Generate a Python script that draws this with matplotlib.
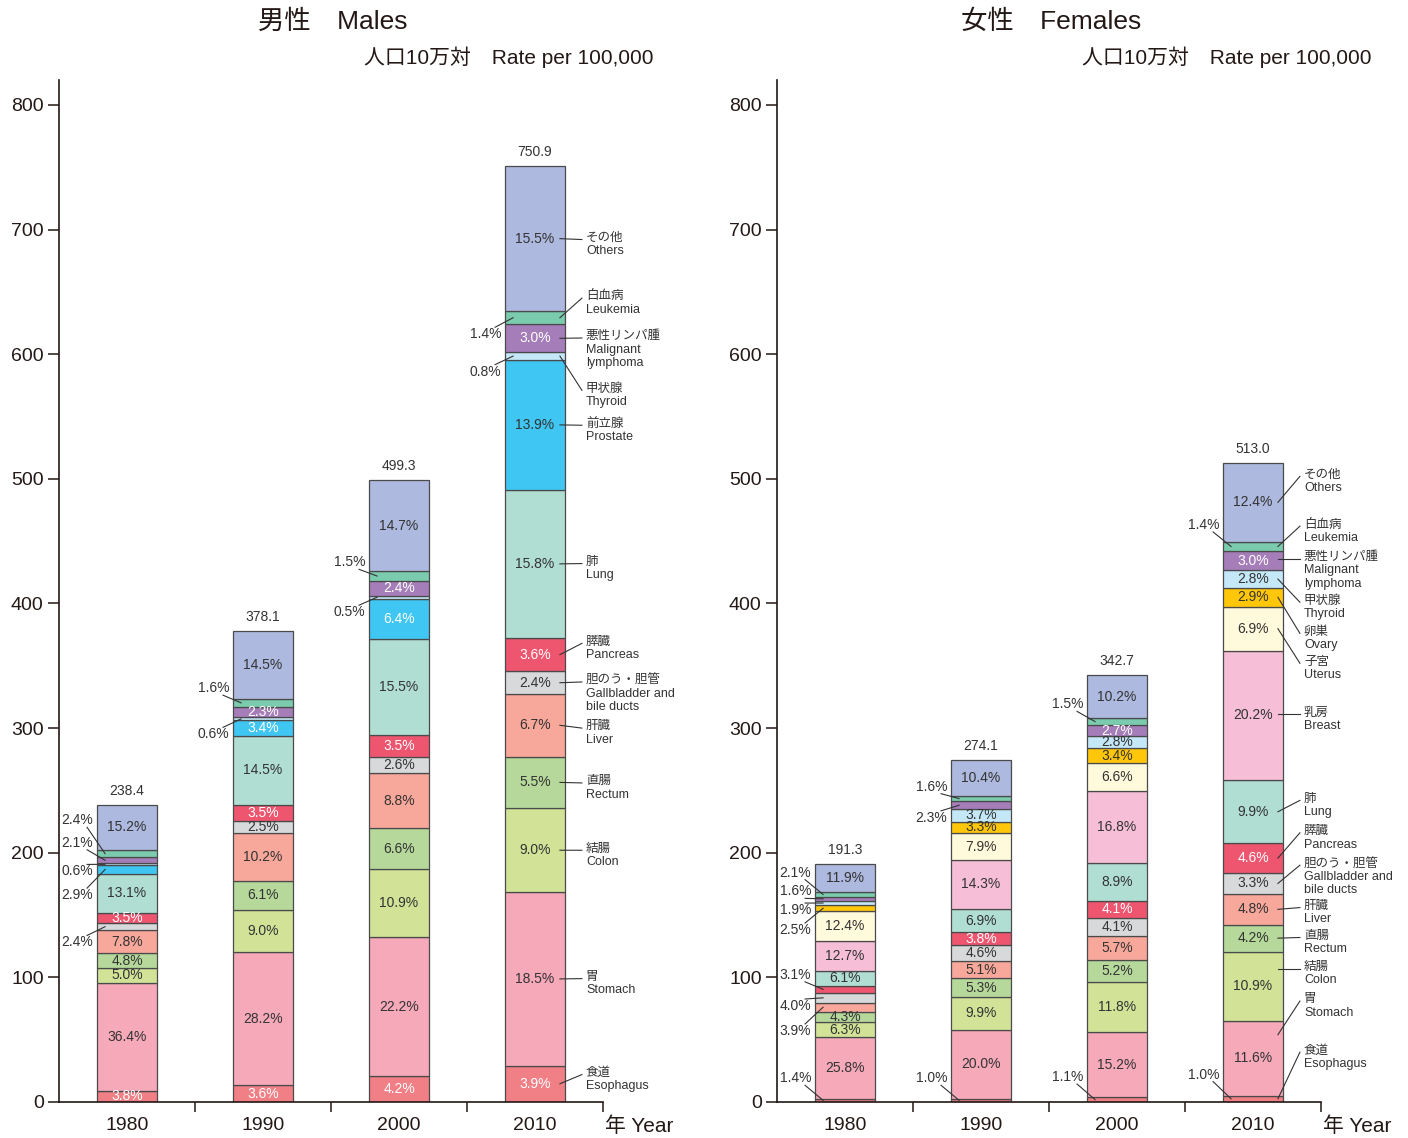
import matplotlib

matplotlib.use("Agg")
import matplotlib.pyplot as plt
import matplotlib.transforms as mtransforms
import numpy as np

plt.rcParams["font.family"] = ["Liberation Sans", "Noto Sans CJK JP", "DejaVu Sans"]

YEARS = ["1980", "1990", "2000", "2010"]

# --- male data (percent of total, bottom -> top) ---
MALE_SITES = ["Esophagus", "Stomach", "Colon", "Rectum", "Liver", "Gallbladder",
              "Pancreas", "Lung", "Prostate", "Thyroid", "Lymphoma", "Leukemia", "Others"]
MALE_TOTAL = [238.4, 378.1, 499.3, 750.9]
MALE_PCT_1980 = [3.8, 36.4, 5.0, 4.8, 7.8, 2.4, 3.5, 13.1, 2.9, 0.6, 2.1, 2.4, 15.2]
MALE_PCT_1990 = [3.6, 28.2, 9.0, 6.1, 10.2, 2.5, 3.5, 14.5, 3.4, 0.6, 2.3, 1.6, 14.5]
MALE_PCT_2000 = [4.2, 22.2, 10.9, 6.6, 8.8, 2.6, 3.5, 15.5, 6.4, 0.5, 2.4, 1.5, 14.7]
MALE_PCT_2010 = [3.9, 18.5, 9.0, 5.5, 6.7, 2.4, 3.6, 15.8, 13.9, 0.8, 3.0, 1.4, 15.5]

# --- female data ---
FEMALE_SITES = ["Esophagus", "Stomach", "Colon", "Rectum", "Liver", "Gallbladder",
                "Pancreas", "Lung", "Breast", "Uterus", "Ovary", "Thyroid",
                "Lymphoma", "Leukemia", "Others"]
FEMALE_TOTAL = [191.3, 274.1, 342.7, 513.0]
FEMALE_PCT_1980 = [1.4, 25.8, 6.3, 4.3, 3.9, 4.0, 3.1, 6.1, 12.7, 12.4, 2.5, 1.9, 1.6, 2.1, 11.9]
FEMALE_PCT_1990 = [1.0, 20.0, 9.9, 5.3, 5.1, 4.6, 3.8, 6.9, 14.3, 7.9, 3.3, 3.7, 2.3, 1.6, 10.4]
FEMALE_PCT_2000 = [1.1, 15.2, 11.8, 5.2, 5.7, 4.1, 4.1, 8.9, 16.8, 6.6, 3.4, 2.8, 2.7, 1.5, 10.2]
FEMALE_PCT_2010 = [1.0, 11.6, 10.9, 4.2, 4.8, 3.3, 4.6, 9.9, 20.2, 6.9, 2.9, 2.8, 3.0, 1.4, 12.4]

SITE_NAMES = {
    "Esophagus": "食道\nEsophagus",
    "Stomach": "胃\nStomach",
    "Colon": "結腸\nColon",
    "Rectum": "直腸\nRectum",
    "Liver": "肝臓\nLiver",
    "Gallbladder": "胆のう・胆管\nGallbladder and\nbile ducts",
    "Pancreas": "膵臓\nPancreas",
    "Lung": "肺\nLung",
    "Prostate": "前立腺\nProstate",
    "Breast": "乳房\nBreast",
    "Uterus": "子宮\nUterus",
    "Ovary": "卵巣\nOvary",
    "Thyroid": "甲状腺\nThyroid",
    "Lymphoma": "悪性リンパ腫\nMalignant\nlymphoma",
    "Leukemia": "白血病\nLeukemia",
    "Others": "その他\nOthers",
}

COLORS = {
    "Esophagus": "#F07F86",
    "Stomach": "#F5A9B9",
    "Colon": "#D2E398",
    "Rectum": "#B6D99B",
    "Liver": "#F8A79B",
    "Gallbladder": "#D8D9DA",
    "Pancreas": "#EE5670",
    "Lung": "#B1DED3",
    "Prostate": "#40C6F2",
    "Breast": "#F6BFD7",
    "Uterus": "#FFFADB",
    "Ovary": "#FFC60A",
    "Thyroid": "#C4E8F7",
    "Lymphoma": "#A57DB9",
    "Leukemia": "#7BCBAF",
    "Others": "#ADB9DE",
}
WHITE_TEXT = {"Esophagus", "Pancreas", "Prostate", "Lymphoma"}
TEXT_DARK = "#333333"
EDGE = "#4a4a4a"
AXIS_COLOR = "#231815"

# layout: small shares labelled to the left of the bar (text y in data units)
MALE_OUTSIDE = {
    0: {"Leukemia": 226, "Lymphoma": 208, "Thyroid": 185, "Prostate": 166, "Gallbladder": 128},
    1: {"Leukemia": 332, "Thyroid": 295},
    2: {"Leukemia": 433, "Thyroid": 393},
    3: {"Leukemia": 616, "Thyroid": 586},
}
FEMALE_OUTSIDE = {
    0: {"Leukemia": 184, "Lymphoma": 169, "Thyroid": 154, "Ovary": 138,
        "Pancreas": 102, "Gallbladder": 77, "Liver": 57, "Esophagus": 19},
    1: {"Leukemia": 253, "Lymphoma": 228, "Esophagus": 19},
    2: {"Leukemia": 319, "Esophagus": 20},
    3: {"Leukemia": 463, "Esophagus": 22},
}
# layout: site names right of the last bar -> (text y, leader start y or None = segment mid)
MALE_SIDE = {
    "Others": (692, None), "Leukemia": (645, None), "Lymphoma": (613, None),
    "Thyroid": (571, None), "Prostate": (543, None), "Lung": (432, None),
    "Pancreas": (368, None), "Gallbladder": (337, None), "Liver": (300, None),
    "Rectum": (256, None), "Colon": (202, None), "Stomach": (99, None),
    "Esophagus": (22, None),
}
FEMALE_SIDE = {
    "Others": (502, None), "Leukemia": (462, None), "Lymphoma": (436, 436),
    "Thyroid": (401, None), "Ovary": (376, None), "Uterus": (352, None),
    "Breast": (311, 311), "Lung": (242, None), "Pancreas": (216, None),
    "Gallbladder": (190, None), "Liver": (156, None), "Rectum": (132, None),
    "Colon": (107, 107), "Stomach": (81, 54), "Esophagus": (40, None),
}

BAR_W = 0.44
PX_X = 1 / 136.0      # one pixel in x data units
PX_Y = 1 / 1.24625    # one pixel in y data units


def draw_panel(ax, sites, totals, pct_rows, outside, side, dark_cells):
    x = np.arange(len(YEARS))
    pct = np.array(pct_rows, dtype=float).T          # (site, year)
    heights = pct / pct.sum(axis=0) * np.array(totals)
    bottoms = np.vstack([np.zeros(len(YEARS)), np.cumsum(heights, axis=0)[:-1]])

    for k, site in enumerate(sites):
        ax.bar(x, heights[k], BAR_W, bottom=bottoms[k], color=COLORS[site],
               edgecolor=EDGE, linewidth=0.9, zorder=2)

    for i in range(len(YEARS)):
        left = x[i] - BAR_W / 2
        for k, site in enumerate(sites):
            mid = bottoms[k, i] + heights[k, i] / 2
            txt = f"{pct[k, i]:.1f}%"
            if site in outside.get(i, {}):
                ty = outside[i][site]
                ax.text(left - 4 * PX_X, ty, txt, ha="right", va="center",
                        fontsize=10, color=TEXT_DARK, zorder=4)
                d = mid - ty
                if abs(d) < 3:
                    sx, sy = left - 4 * PX_X, ty
                else:
                    sx, sy = left - 10 * PX_X, ty + np.sign(d) * 7 * PX_Y
                ax.plot([sx, left + 8 * PX_X], [sy, mid], color=TEXT_DARK,
                        lw=0.8, zorder=5, clip_on=False)
            else:
                white = site in WHITE_TEXT and (i, site) not in dark_cells
                ax.text(x[i], mid, txt, ha="center", va="center", fontsize=10,
                        color="white" if white else TEXT_DARK, zorder=4)
        ax.annotate(f"{totals[i]:.1f}", (x[i], totals[i]), xytext=(0, 5),
                    textcoords="offset points", ha="center", va="bottom",
                    fontsize=10, color=TEXT_DARK)

    # site names next to the last bar
    i = len(YEARS) - 1
    right = x[i] + BAR_W / 2
    for k, site in enumerate(sites):
        ty, iy = side[site]
        if iy is None:
            iy = bottoms[k, i] + heights[k, i] / 2
        ax.plot([right - 5 * PX_X, right + 17 * PX_X], [iy, ty], color=TEXT_DARK,
                lw=0.8, zorder=5, clip_on=False)
        ax.annotate(SITE_NAMES[site], (right + 21 * PX_X, ty), xytext=(0, 5.5),
                    textcoords="offset points", ha="left", va="top",
                    fontsize=9, linespacing=1.15, color=TEXT_DARK)

    ax.set_xlim(-0.5, 3.5)
    ax.set_ylim(0, 820)
    ax.set_xticks(x)
    ax.set_xticklabels(YEARS)
    ax.set_xticks([0.5, 1.5, 2.5, 3.5], minor=True)
    ax.tick_params(axis="x", which="major", length=0, pad=11, labelsize=14,
                   colors=AXIS_COLOR)
    ax.tick_params(axis="x", which="minor", length=7.5, width=1.1, direction="out",
                   color=AXIS_COLOR)
    ax.set_yticks(range(0, 801, 100))
    ax.tick_params(axis="y", length=8, width=1.1, pad=3, labelsize=14,
                   colors=AXIS_COLOR)
    for s in ("top", "right"):
        ax.spines[s].set_visible(False)
    for s in ("left", "bottom"):
        ax.spines[s].set_linewidth(1.2)
        ax.spines[s].set_color(AXIS_COLOR)

    tr = mtransforms.blended_transform_factory(ax.transData, ax.transAxes)
    ax.text(3.5 + 2 * PX_X, -0.0235, "年 Year", transform=tr, ha="left",
            va="center", fontsize=15, color=AXIS_COLOR)


fig = plt.figure(figsize=(14.08, 11.38), dpi=100)
ax_m = fig.add_axes([59 / 1408, 36 / 1138, 544 / 1408, 1022 / 1138])
ax_f = fig.add_axes([777 / 1408, 36 / 1138, 544 / 1408, 1022 / 1138])

draw_panel(ax_m, MALE_SITES, MALE_TOTAL,
           [MALE_PCT_1980, MALE_PCT_1990, MALE_PCT_2000, MALE_PCT_2010],
           MALE_OUTSIDE, MALE_SIDE, dark_cells={(3, "Prostate")})
draw_panel(ax_f, FEMALE_SITES, FEMALE_TOTAL,
           [FEMALE_PCT_1980, FEMALE_PCT_1990, FEMALE_PCT_2000, FEMALE_PCT_2010],
           FEMALE_OUTSIDE, FEMALE_SIDE, dark_cells=set())

for ax, title in ((ax_m, "男性　Males"), (ax_f, "女性　Females")):
    ax.text(0.504, 1.0567, title, transform=ax.transAxes, ha="center",
            va="center", fontsize=19, color=AXIS_COLOR)
    ax.text(1.092, 1.0225, "人口10万対　Rate per 100,000", transform=ax.transAxes,
            ha="right", va="center", fontsize=15, color=AXIS_COLOR)

fig.savefig("out.png", dpi=100)
